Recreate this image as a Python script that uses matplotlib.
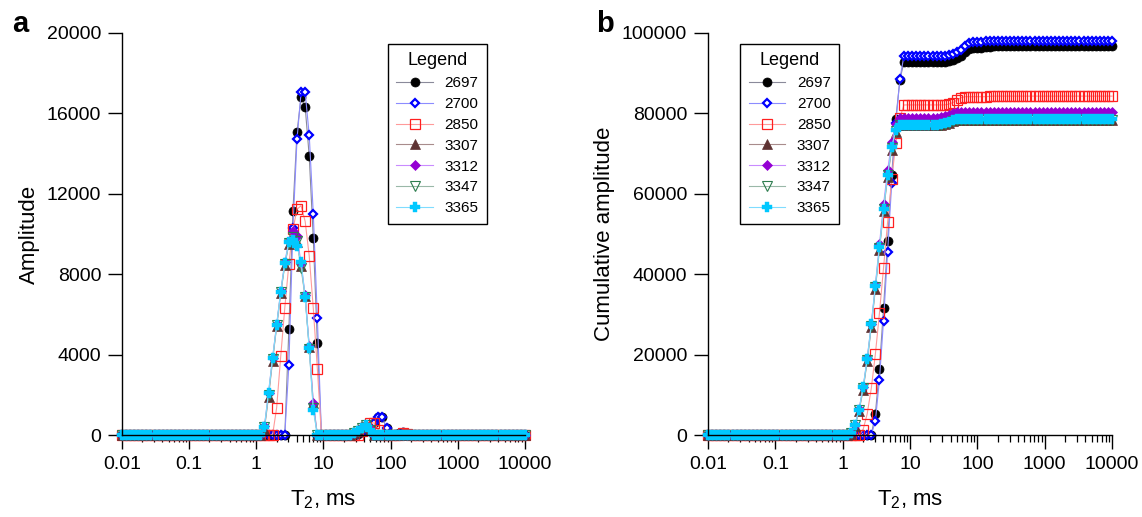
import numpy as np
import matplotlib.pyplot as plt
from matplotlib.ticker import FixedLocator, NullFormatter

plt.rcParams['font.family'] = ['Liberation Sans', 'DejaVu Sans']
plt.rcParams['mathtext.fontset'] = 'custom'
plt.rcParams['mathtext.rm'] = 'Liberation Sans'

# T2 bins of the inversion (100 log-spaced bins, 0.01 - 10000 ms)
t2_ms = np.logspace(-2, 4, 100)
seg_start = 34   # first bin index of the listed segments (bins 34..71)

samples = ['2697', '2700', '2850', '3307', '3312', '3347', '3365']

# Amplitude, bins 34..71 (zero elsewhere)
amp_2697 = [0] * 7 + [5260, 11160, 15060, 16800, 16330, 13870, 9790, 4560] + [0] * 9 \
    + [50, 150, 250, 400, 610, 880, 880, 330] + [0, 0, 100, 150, 120, 50]
amp_2700 = [0] * 7 + [3470, 10300, 14710, 17050, 17050, 14925, 11000, 5800] + [0] * 9 \
    + [50, 150, 250, 400, 610, 880, 880, 330] + [0, 0, 60, 80, 0, 0]
amp_2850 = [0] * 4 + [1360, 3915, 6330, 8510, 10230, 11230, 11410, 10630, 8905, 6300, 3285] + [0] * 10 \
    + [200, 400, 600, 600, 250] + [0] * 5 + [80, 60, 0]
amp_3307 = [0] + [300, 1900, 3700, 5400, 7050, 8450, 9500, 9800, 9600, 8400, 6900, 4400, 1600] + [0] * 9 \
    + [80, 220, 380, 450, 250] + [0] * 10
amp_3312 = [0] + [450, 2100, 3850, 5500, 7150, 8600, 9650, 10150, 9900, 8550, 6950, 4450, 1600] + [0] * 9 \
    + [100, 250, 400, 450, 300] + [0] * 10
amp_3347 = [0] + [380, 2000, 3780, 5450, 7100, 8500, 9550, 9850, 9650, 8300, 6850, 4300, 1350] + [0] * 9 \
    + [80, 200, 350, 480, 250] + [0] * 10
amp_3365 = [0] + [420, 2100, 3820, 5480, 7130, 8540, 9580, 9700, 9400, 8600, 6850, 4350, 1250] + [0] * 9 \
    + [100, 200, 350, 500, 250] + [0] * 10

# Cumulative amplitude, bins 34..71 (0 before, flat after)
cum_2697 = [0] * 7 + [5260, 16420, 31480, 48280, 64610, 78480, 88270, 92830] + [92830] * 9 \
    + [92880, 93030, 93280, 93680, 94290, 95170, 96050, 96380] + [96380, 96380, 96480, 96630, 96750, 96800]
cum_2700 = [0] * 7 + [3470, 13770, 28480, 45530, 62580, 77505, 88505, 94305] + [94305] * 9 \
    + [94355, 94505, 94755, 95155, 95765, 96645, 97525, 97855] + [97855, 97855, 97915, 97995, 97995, 97995]
cum_2850 = [0] * 4 + [1360, 5275, 11605, 20115, 30345, 41575, 52985, 63615, 72520, 78820, 82105] + [82105] * 10 \
    + [82305, 82705, 83305, 83905, 84155] + [84155] * 5 + [84235, 84295, 84295]
cum_3307 = [0] + [300, 2200, 5900, 11300, 18350, 26800, 36300, 46100, 55700, 64100, 71000, 75400, 77000] \
    + [77000] * 9 + [77080, 77300, 77680, 78130, 78380] + [78380] * 10
cum_3312 = [0] + [450, 2550, 6400, 11900, 19050, 27650, 37300, 47450, 57350, 65900, 72850, 77300, 78900] \
    + [78900] * 9 + [79000, 79250, 79650, 80100, 80400] + [80400] * 10
cum_3347 = [0] + [380, 2380, 6160, 11610, 18710, 27210, 36760, 46610, 56260, 64560, 71410, 75710, 77060] \
    + [77060] * 9 + [77140, 77340, 77690, 78170, 78420] + [78420] * 10
cum_3365 = [0] + [420, 2520, 6340, 11820, 18950, 27490, 37070, 46770, 56170, 64770, 71620, 75970, 77220] \
    + [77220] * 9 + [77320, 77520, 77870, 78370, 78620] + [78620] * 10

amp_lists = [amp_2697, amp_2700, amp_2850, amp_3307, amp_3312, amp_3347, amp_3365]
cum_lists = [cum_2697, cum_2700, cum_2850, cum_3307, cum_3312, cum_3347, cum_3365]

styles = [
    dict(marker='o', ms=6.5, mfc='black', mec='black', mew=0.5, color='#8a8a9a'),
    dict(marker='D', ms=4.2, mfc='white', mec='#0000ff', mew=1.6, color='#8c8cff'),
    dict(marker='s', ms=6.5, mfc='none', mec='#ff2020', mew=0.9, color='#ff9a9a'),
    dict(marker='^', ms=6.5, mfc='#5e3232', mec='#5e3232', mew=0.5, color='#a88c8c'),
    dict(marker='D', ms=5.5, mfc='#9400d3', mec='#9400d3', mew=0.5, color='#c98cff'),
    dict(marker='v', ms=6.5, mfc='none', mec='#2e7d4f', mew=0.8, color='#9ab8a8'),
    dict(marker='P', ms=7, mfc='#00c8ff', mec='#00c8ff', mew=0.3, color='#7fdcff'),
]


def full_amp(seg):
    arr = np.zeros(len(t2_ms))
    arr[seg_start:seg_start + len(seg)] = seg
    return arr


def full_cum(seg):
    arr = np.zeros(len(t2_ms))
    arr[seg_start:seg_start + len(seg)] = seg
    arr[seg_start + len(seg):] = seg[-1]
    return arr


def style_axis(ax, ymax, ystep):
    ax.set_xscale('log')
    ax.set_xlim(0.01, 10000)
    ax.set_ylim(0, ymax)
    ax.set_yticks(np.arange(0, ymax + 1, ystep))
    ax.set_xticks([0.01, 0.1, 1, 10, 100, 1000, 10000])
    ax.set_xticklabels(['0.01', '0.1', '1', '10', '100', '1000', '10000'])
    minors = [m * 10.0 ** e for e in range(-2, 4) for m in range(2, 10)]
    ax.xaxis.set_minor_locator(FixedLocator(minors))
    ax.xaxis.set_minor_formatter(NullFormatter())
    for s in ['top', 'right']:
        ax.spines[s].set_visible(False)
    for s in ['left', 'bottom']:
        ax.spines[s].set_linewidth(1.0)
    ax.tick_params(axis='x', which='major', length=10, width=1.0, labelsize=14, pad=5)
    ax.tick_params(axis='x', which='minor', length=5, width=0.9)
    ax.tick_params(axis='y', which='major', length=10, width=1.0, labelsize=14, pad=5)
    ax.set_xlabel(r'T$_\mathregular{2}$, ms', fontsize=16, labelpad=11)


fig = plt.figure(figsize=(11.42, 5.17), dpi=100)
ax_a = fig.add_axes([0.1068, 0.1586, 0.3529, 0.7776])
ax_b = fig.add_axes([0.62, 0.1586, 0.3538, 0.7776])

for name, amp, cum, st in zip(samples, amp_lists, cum_lists, styles):
    ax_a.plot(t2_ms, full_amp(amp), lw=0.8, label=name, clip_on=False, **st)
    ax_b.plot(t2_ms, full_cum(cum), lw=0.8, label=name, clip_on=False, **st)

style_axis(ax_a, 20000, 4000)
style_axis(ax_b, 100000, 20000)
ax_a.set_ylabel('Amplitude', fontsize=16, labelpad=5)
ax_b.set_ylabel('Cumulative amplitude', fontsize=16, labelpad=5)

for ax, xa in [(ax_a, 0.66), (ax_b, 0.08)]:
    leg = ax.legend(loc='upper left', bbox_to_anchor=(xa, 0.973), title='Legend',
                    fontsize=11, title_fontsize=13, frameon=True,
                    fancybox=False, edgecolor='black', framealpha=1,
                    handlelength=2.4, handletextpad=0.75, labelspacing=0.45,
                    borderpad=0.55, borderaxespad=0)
    leg.get_frame().set_linewidth(1.0)

fig.text(0.011, 0.938, 'a', fontsize=21, fontweight='bold')
fig.text(0.522, 0.938, 'b', fontsize=21, fontweight='bold')

fig.savefig('out.png', dpi=100)
